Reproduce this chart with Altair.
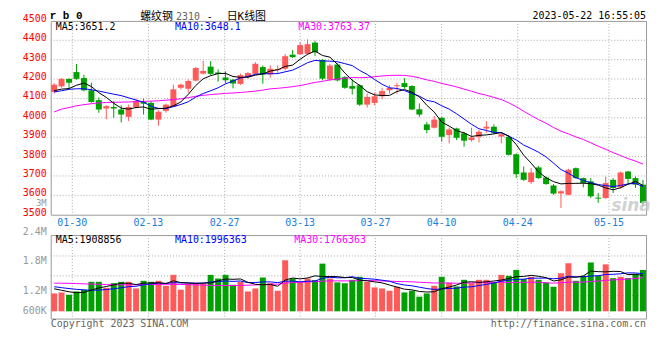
import altair as alt
import pandas as pd

# ---------------- data ----------------
opens = [4133, 4162, 4201, 4236, 4205, 4142, 4091, 4048, 4056, 4043,
         4005, 4055, 4082, 4077, 3991, 4036, 4056, 4155, 4150, 4192,
         4228, 4264, 4234, 4208, 4197, 4175, 4210, 4227, 4262, 4224,
         4247, 4253, 4326, 4328, 4330, 4388, 4299, 4197, 4275, 4210,
         4164, 4168, 4068, 4077, 4111, 4142, 4163, 4179, 4164, 4044,
         3966, 3949, 4000, 3911, 3945, 3920, 3885, 3902, 3945, 3954,
         3903, 3902, 3812, 3718, 3668, 3744, 3692, 3651, 3609, 3603,
         3740, 3689, 3672, 3588, 3586, 3680, 3641, 3723, 3689, 3655]
highs = [4179, 4205, 4203, 4278, 4222, 4181, 4105, 4065, 4086, 4065,
         4068, 4099, 4099, 4086, 4039, 4073, 4171, 4176, 4198, 4262,
         4295, 4293, 4250, 4240, 4200, 4228, 4236, 4287, 4270, 4270,
         4270, 4330, 4350, 4390, 4405, 4398, 4304, 4279, 4282, 4215,
         4198, 4172, 4125, 4130, 4154, 4168, 4181, 4205, 4168, 4074,
         3979, 4009, 4005, 3950, 3949, 3928, 3949, 3937, 3983, 3966,
         3925, 3911, 3817, 3749, 3740, 3752, 3697, 3658, 3626, 3737,
         3744, 3692, 3689, 3612, 3697, 3689, 3723, 3726, 3697, 3680]
lows = [4125, 4155, 4150, 4196, 4137, 4077, 4026, 3993, 4000, 3976,
        3983, 4048, 4017, 3988, 3959, 4027, 4056, 4147, 4130, 4188,
        4224, 4219, 4186, 4178, 4152, 4170, 4202, 4224, 4176, 4207,
        4227, 4244, 4309, 4325, 4326, 4320, 4193, 4193, 4188, 4150,
        4120, 4062, 4053, 4065, 4096, 4125, 4125, 4150, 4040, 4005,
        3920, 3945, 3877, 3868, 3885, 3851, 3877, 3873, 3923, 3915,
        3868, 3805, 3689, 3675, 3658, 3685, 3655, 3603, 3535, 3600,
        3685, 3641, 3586, 3561, 3583, 3612, 3634, 3658, 3638, 3544]
closes = [4171, 4201, 4181, 4201, 4142, 4082, 4043, 4060, 4048, 4017,
          4056, 4086, 4073, 3991, 4031, 4068, 4147, 4171, 4190, 4257,
          4242, 4227, 4226, 4194, 4177, 4220, 4231, 4279, 4224, 4253,
          4252, 4318, 4313, 4375, 4380, 4338, 4202, 4270, 4193, 4155,
          4150, 4068, 4108, 4111, 4138, 4154, 4168, 4159, 4043, 4017,
          3937, 3991, 3902, 3940, 3897, 3882, 3899, 3928, 3954, 3923,
          3915, 3809, 3709, 3680, 3718, 3689, 3658, 3609, 3621, 3732,
          3689, 3663, 3595, 3583, 3663, 3638, 3718, 3685, 3655, 3561]
ma5 = [4140, 4148, 4151, 4168, 4179.2, 4161.4, 4129.8, 4105.6, 4075, 4050,
       4044.8, 4053.4, 4056, 4044.6, 4047.4, 4049.8, 4062, 4081.6, 4121.4, 4166.6,
       4201.4, 4217.4, 4228.4, 4229.2, 4213.2, 4208.8, 4209.6, 4220.2, 4226.2, 4241.4,
       4247.8, 4265.2, 4272, 4302.2, 4327.6, 4344.8, 4321.6, 4313, 4276.6, 4231.6,
       4194, 4167.2, 4134.8, 4118.4, 4115, 4115.8, 4135.8, 4146, 4132.4, 4108.2,
       4064.8, 4029.4, 3978, 3957.4, 3933.4, 3922.4, 3904, 3909.2, 3912, 3917.2,
       3923.8, 3905.8, 3862, 3807.2, 3766.2, 3721, 3690.8, 3670.8, 3659, 3661.8,
       3661.8, 3662.8, 3660, 3652.4, 3638.6, 3628.4, 3639.4, 3657.4, 3671.8, 3651.4]
ma10 = [4133, 4140, 4147, 4150, 4150, 4145, 4138, 4130, 4122, 4114.6,
        4103.1, 4091.6, 4080.8, 4059.8, 4048.7, 4047.3, 4057.7, 4068.8, 4083, 4107,
        4125.6, 4139.7, 4155, 4175.3, 4189.9, 4205.1, 4213.5, 4224.3, 4227.7, 4227.3,
        4228.3, 4237.4, 4246.1, 4264.2, 4284.5, 4296.3, 4293.4, 4292.5, 4289.4, 4279.6,
        4269.4, 4244.4, 4223.9, 4197.5, 4173.3, 4154.9, 4151.5, 4140.4, 4125.4, 4111.6,
        4090.3, 4082.6, 4062, 4044.9, 4020.8, 3993.6, 3966.7, 3943.6, 3934.7, 3925.3,
        3923.1, 3904.9, 3885.6, 3859.6, 3841.7, 3822.4, 3798.3, 3766.4, 3733.1, 3714,
        3691.4, 3676.8, 3665.4, 3655.7, 3650.2, 3645.1, 3651.1, 3658.7, 3662.1, 3645]
ma30 = [4030, 4045, 4053, 4062, 4068, 4073, 4077, 4079, 4080, 4081,
        4082, 4083, 4085, 4086, 4088, 4091, 4094, 4098, 4104, 4111,
        4116, 4120, 4123, 4126, 4128, 4131, 4134, 4138, 4143, 4149.6,
        4152.3, 4156.2, 4160.6, 4166.4, 4174.4, 4182.9, 4188.2, 4195.2, 4200, 4204.6,
        4207.8, 4207.2, 4208.3, 4212.3, 4215.9, 4218.8, 4219.5, 4219.1, 4214.2, 4206.2,
        4196, 4188.1, 4177.3, 4168.9, 4159.5, 4148.3, 4137.2, 4125.5, 4116.5, 4105.5,
        4094.3, 4077.3, 4057.2, 4034, 4011.9, 3990.3, 3972.2, 3950.1, 3931.1, 3917,
        3901.6, 3888.1, 3871, 3853.4, 3837.6, 3820.4, 3805.4, 3789.6, 3776.6, 3761.4]
# volume, thousand lots
volumes = [952, 1005, 883, 1058, 1148, 1571, 1571, 1250, 1502, 1571,
           1571, 1217, 1624, 1571, 1624, 1360, 1941, 1150, 1481, 1481,
           1481, 1941, 1746, 1941, 1412, 1571, 1058, 1217, 1799, 1502,
           1095, 2719, 1746, 1571, 1746, 1661, 2539, 1746, 1540, 1495,
           1677, 1836, 1571, 1270, 1217, 1095, 1307, 1005, 1095, 778,
           952, 1360, 1836, 1534, 1323, 1677, 1502, 1677, 1677, 1534,
           1941, 1889, 2206, 1714, 1836, 1677, 1534, 1307, 2031, 2560,
           1624, 1889, 2600, 1889, 2500, 1767, 1836, 1767, 1980, 2200]
vol_ma5 = [1200, 1120, 1040, 990, 1009, 1133, 1246, 1320, 1408, 1493,
           1493, 1422, 1497, 1511, 1521, 1479, 1624, 1529, 1511, 1483,
           1507, 1507, 1626, 1718, 1704, 1722, 1546, 1440, 1411, 1429,
           1334, 1666, 1772, 1727, 1775, 1889, 1853, 1853, 1846, 1796,
           1799, 1659, 1624, 1570, 1514, 1398, 1292, 1179, 1144, 1056,
           1027, 1038, 1204, 1292, 1401, 1546, 1574, 1543, 1571, 1613,
           1666, 1744, 1849, 1857, 1917, 1864, 1793, 1614, 1677, 1822,
           1811, 1882, 2141, 2112, 2100, 2129, 2118, 1952, 1970, 1910]
vol_ma10 = [1310, 1260, 1210, 1170, 1140, 1120, 1130, 1160, 1200, 1251,
            1313, 1334, 1408, 1460, 1507, 1486, 1523, 1513, 1511, 1502,
            1493, 1565, 1578, 1615, 1593, 1615, 1526, 1533, 1565, 1567,
            1528, 1606, 1606, 1569, 1602, 1611, 1760, 1812, 1787, 1786,
            1844, 1756, 1738, 1708, 1655, 1599, 1475, 1401, 1357, 1285,
            1213, 1165, 1192, 1218, 1229, 1287, 1306, 1373, 1432, 1507,
            1606, 1659, 1696, 1714, 1765, 1765, 1769, 1732, 1767, 1870,
            1838, 1838, 1877, 1895, 1961, 1970, 2000, 2046, 2041, 2005]
vol_ma30 = [1500, 1495, 1490, 1475, 1460, 1450, 1440, 1425, 1410, 1410,
            1415, 1420, 1420, 1425, 1430, 1440, 1435, 1430, 1420, 1410,
            1395, 1380, 1375, 1370, 1370, 1380, 1390, 1405, 1420, 1440,
            1445, 1502, 1531, 1548, 1568, 1571, 1603, 1619, 1621, 1618,
            1622, 1642, 1641, 1631, 1617, 1608, 1587, 1582, 1569, 1546,
            1528, 1509, 1512, 1498, 1495, 1499, 1514, 1529, 1525, 1526,
            1554, 1527, 1542, 1547, 1550, 1550, 1517, 1502, 1518, 1554,
            1552, 1554, 1588, 1609, 1652, 1674, 1692, 1717, 1747, 1794]
tick_labels = ["01-30", "02-13", "02-27", "03-13", "03-27", "04-10", "04-24", "05-15"]
tick_slots = [2.44, 12.65, 22.88, 33.01, 43.11, 51.99, 62.2, 74.44]
price_ticks = [4500, 4400, 4300, 4200, 4100, 4000, 3900, 3800, 3700, 3600, 3500]
price_grid = [4400, 4300, 4200, 4100, 4000, 3900, 3800, 3700, 3600]
price_legend = ["MA5:3651.2", "MA10:3648.1", "MA30:3763.37"]
vol_legend = ["MA5:1908856", "MA10:1996363", "MA30:1766363"]
vol_labels = ["3M", "2.4M", "1.8M", "1.2M", "600K"]

# ---------------- styling ----------------
RED, GREEN = "#ff5a5a", "#00a000"
GRID, BORDER = "#aaaaaa", "#999999"
MONO = "DejaVu Sans Mono"
CJK = "DejaVu Sans Mono, Noto Sans CJK SC"
W, H1, H2 = 599, 195, 84
X_OFF, STEP = 3.4, 7.5
VOL_BASE_PX, VOL_PER_PX = 76.7, 52.9

n = len(closes)
df = pd.DataFrame({
    "idx": list(range(n)), "open": opens, "high": highs, "low": lows, "close": closes,
    "ma5": ma5, "ma10": ma10, "ma30": ma30,
    "vol": volumes, "vma5": vol_ma5, "vma10": vol_ma10, "vma30": vol_ma30,
})
df["dir"] = ["up" if c >= o else "down" for o, c in zip(opens, closes)]
df["zero"] = 0
ONE = pd.DataFrame({"_": [0]})

xs = alt.Scale(domain=[-X_OFF / STEP, (W - X_OFF) / STEP], nice=False, zero=False, padding=0)
ys = alt.Scale(domain=[3500, 4500], nice=False, zero=False, padding=0)
vs = alt.Scale(domain=[-(H2 - VOL_BASE_PX) * VOL_PER_PX, VOL_BASE_PX * VOL_PER_PX],
               nice=False, zero=False, padding=0)
X = alt.X("idx:Q", scale=xs, axis=None)
cenc = alt.Color("dir:N", scale=alt.Scale(domain=["up", "down"], range=[RED, GREEN]), legend=None)


def txt(s, x, y, color="black", align="left", size=10, font=MONO, weight="normal", style="normal", opacity=1):
    return alt.Chart(ONE).mark_text(
        text=s, align=align, baseline="middle", font=font, fontSize=size,
        fontWeight=weight, fontStyle=style, color=color, opacity=opacity
    ).encode(x=alt.value(x), y=alt.value(y))


ticks_df = pd.DataFrame({"t": tick_slots, "lab": tick_labels})

# ---------------- price panel ----------------
anchor = alt.Chart(ONE).mark_rect(opacity=0).encode(
    x=alt.value(-42), x2=alt.value(-41), y=alt.value(-10.5), y2=alt.value(-9.5))
hgrid = alt.Chart(pd.DataFrame({"p": price_grid})).mark_rule(
    color=GRID, strokeDash=[1, 2], strokeWidth=1).encode(
    y=alt.Y("p:Q", scale=ys, axis=None), x=alt.value(0), x2=alt.value(W))
vgrid = alt.Chart(ticks_df).mark_rule(color=GRID, strokeDash=[1, 2], strokeWidth=1).encode(
    x=alt.X("t:Q", scale=xs, axis=None), y=alt.value(0), y2=alt.value(H1))
wicks = alt.Chart(df).mark_rule(strokeWidth=1).encode(
    x=X, y=alt.Y("low:Q", scale=ys, axis=None), y2="high:Q", color=cenc)
bodies = alt.Chart(df).mark_bar(size=6).encode(
    x=X, y=alt.Y("open:Q", scale=ys, axis=None), y2="close:Q", color=cenc)
l30 = alt.Chart(df).mark_line(color="#ff00ff", strokeWidth=1).encode(x=X, y=alt.Y("ma30:Q", scale=ys, axis=None))
l10 = alt.Chart(df).mark_line(color="#0000ff", strokeWidth=1).encode(x=X, y=alt.Y("ma10:Q", scale=ys, axis=None))
l5 = alt.Chart(df).mark_line(color="black", strokeWidth=1).encode(x=X, y=alt.Y("ma5:Q", scale=ys, axis=None))
ylabels = alt.Chart(pd.DataFrame({"p": price_ticks})).mark_text(
    align="right", baseline="middle", dx=-4, dy=-2, font=MONO, fontSize=10, color="#ff0000").encode(
    y=alt.Y("p:Q", scale=ys, axis=None), x=alt.value(0), text=alt.Text("p:Q", format="d"))
xlabels = alt.Chart(ticks_df).mark_text(
    align="center", baseline="middle", font=MONO, fontSize=10, color="#1a80d9").encode(
    x=alt.X("t:Q", scale=xs, axis=None), y=alt.value(203.2), text="lab:N")

top = alt.layer(
    anchor, hgrid, vgrid, wicks, bodies, l30, l10, l5, ylabels, xlabels,
    txt(price_legend[0], 5, 6), txt(price_legend[1], 125, 6, "#0000ff"),
    txt(price_legend[2], 249, 6, "#ff00ff"),
    txt(vol_labels[0], -4, 183, "#999999", "right", size=9),
    txt("r b 0", -1, -5, size=11, weight="bold", font="Liberation Mono"),
    txt("螺纹钢", 90, -4, size=11, font=CJK),
    txt("2310", 126, -4, "#666666", size=10),
    txt("-", 157, -4, size=10),
    txt("日K线图", 177, -4, size=11, font=CJK),
    txt("2023-05-22 16:55:05", 599, -5, align="right"),
    txt("sina", 584, 186, "#c8c8c8", "center", size=17, font="DejaVu Sans", weight="bold", style="italic", opacity=0.8),
).properties(width=W, height=H1)

# ---------------- volume panel ----------------
vh = [alt.Chart(ONE).mark_rule(color=GRID, strokeDash=[1, 2], strokeWidth=1).encode(
    y=alt.value(yy), x=alt.value(0), x2=alt.value(W)) for yy in (21, 41, 61)]
vgrid2 = alt.Chart(ticks_df).mark_rule(color=GRID, strokeDash=[1, 2], strokeWidth=1).encode(
    x=alt.X("t:Q", scale=xs, axis=None), y=alt.value(0), y2=alt.value(H2))
vbars = alt.Chart(df).mark_bar(size=6).encode(
    x=X, y=alt.Y("vol:Q", scale=vs, axis=None), y2="zero:Q", color=cenc)
v30 = alt.Chart(df).mark_line(color="#ff00ff", strokeWidth=1).encode(x=X, y=alt.Y("vma30:Q", scale=vs, axis=None))
v10 = alt.Chart(df).mark_line(color="#0000ff", strokeWidth=1).encode(x=X, y=alt.Y("vma10:Q", scale=vs, axis=None))
v5 = alt.Chart(df).mark_line(color="black", strokeWidth=1).encode(x=X, y=alt.Y("vma5:Q", scale=vs, axis=None))

bottom = alt.layer(
    *vh, vgrid2, vbars, v30, v10, v5,
    txt(vol_legend[0], 5, 5), txt(vol_legend[1], 125, 5, "#0000ff"), txt(vol_legend[2], 245, 5, "#ff00ff"),
    txt(vol_labels[1], -4, -3.3, "#999999", "right"),
    txt(vol_labels[2], -4, 26.5, "#999999", "right"),
    txt(vol_labels[3], -4, 56, "#999999", "right"),
    txt(vol_labels[4], -4, 76.7, "#999999", "right"),
    txt("Copyright 2023 SINA.COM", 0, 89.3, "#666666"),
    txt("http://finance.sina.com.cn", 599, 89.8, "#666666", "right"),
).properties(width=W, height=H2)

chart = alt.vconcat(top, bottom, spacing=20.5, bounds="flush").properties(
    padding=0, background="white"
).configure_view(stroke=BORDER, strokeWidth=1)

chart.save("out.html", embed_options={"renderer": "svg", "actions": False})
